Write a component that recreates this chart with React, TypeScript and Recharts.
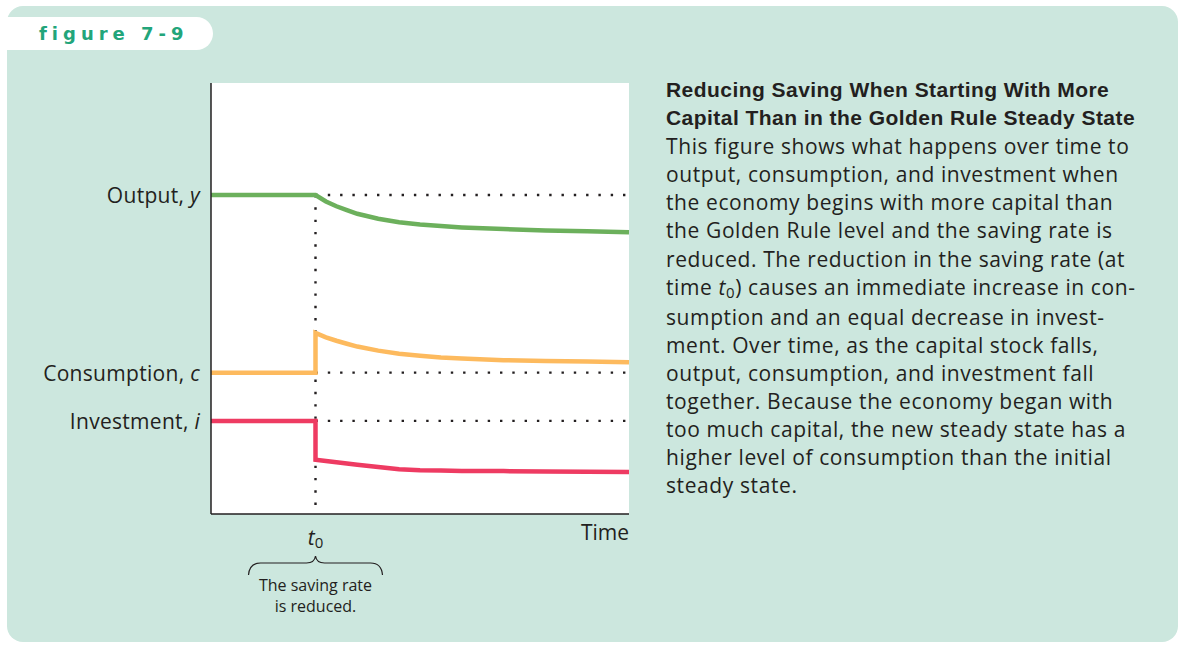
import { LineChart, Line, XAxis, YAxis, ReferenceLine, CartesianGrid } from 'recharts';

// time runs 0..100, the saving rate is cut at t0 = 25 (two rows at 25 make the jump)
const time = [0, 25, 25, 27.5, 30, 32.5, 35, 40, 45, 50, 55, 60, 70, 80, 90, 100];
const output = [74.0, 74.0, 74.0, 72.5, 71.4, 70.5, 69.65, 68.5, 67.7, 67.15, 66.8, 66.5, 66.1, 65.8, 65.6, 65.4];
const consumption = [32.8, 32.8, 42.0, 41.0, 40.2, 39.5, 38.85, 37.9, 37.2, 36.7, 36.3, 36.1, 35.7, 35.5, 35.4, 35.2];
const investment = [21.6, 21.6, 12.6, 12.3, 12.0, 11.7, 11.45, 10.9, 10.4, 10.15, 10.07, 10.0, 9.95, 9.88, 9.8, 9.74];

const t0 = 25;
const tEnd = 100;

const yTickValues = [74.0, 32.8, 21.6];
const yTickNames = ['Output, ', 'Consumption, ', 'Investment, '];
const yTickSymbols = ['y', 'c', 'i'];

const xTickValues = [25, 100];
const timeLabel = 'Time';
const captionLines = ['The saving rate', 'is reduced.'];

const title = ['Reducing Saving When Starting With More', 'Capital Than in the Golden Rule Steady State'];
const bodyLines = [
  'This figure shows what happens over time to',
  'output, consumption, and investment when',
  'the economy begins with more capital than',
  'the Golden Rule level and the saving rate is',
  'reduced. The reduction in the saving rate (at',
  'time {t0}) causes an immediate increase in con-',
  'sumption and an equal decrease in invest-',
  'ment. Over time, as the capital stock falls,',
  'output, consumption, and investment fall',
  'together. Because the economy began with',
  'too much capital, the new steady state has a',
  'higher level of consumption than the initial',
  'steady state.',
];

const data = time.map((t, i) => ({
  t,
  output: output[i],
  consumption: consumption[i],
  investment: investment[i],
}));

const FONT = '"Open Sans", sans-serif';
const INK = '#231f20';

function YTick(props: any) {
  const { x, y, payload } = props;
  const idx = yTickValues.indexOf(payload.value);
  return (
    <text x={x} y={y} dy={8} textAnchor="end" fontFamily={FONT} fontSize={21} letterSpacing={0.3} fill={INK}>
      {yTickNames[idx]}
      <tspan fontStyle="italic">{yTickSymbols[idx]}</tspan>
    </text>
  );
}

function XTick(props: any) {
  const { x, y, payload } = props;
  if (payload.value === tEnd) {
    return (
      <text x={x} y={y + 26} textAnchor="end" fontFamily={FONT} fontSize={21} fill={INK}>
        {timeLabel}
      </text>
    );
  }
  return (
    <g>
      <text x={x} y={y + 31} textAnchor="middle" fontFamily={FONT} fontSize={21} fill={INK}>
        <tspan fontStyle="italic">t</tspan>
        <tspan fontSize={15} dy={3}>0</tspan>
      </text>
      <path
        d={`M${x - 67},${y + 61} Q${x - 66},${y + 49} ${x - 55},${y + 49} L${x - 9},${y + 49} Q${x - 1},${y + 49} ${x},${y + 42} Q${x + 1},${y + 49} ${x + 9},${y + 49} L${x + 55},${y + 49} Q${x + 66},${y + 49} ${x + 67},${y + 61}`}
        fill="none"
        stroke={INK}
        strokeWidth={1.2}
      />
      {captionLines.map((line, i) => (
        <text key={line} x={x} y={y + 77 + i * 21} textAnchor="middle" fontFamily={FONT} fontSize={16} fill={INK}>
          {line}
        </text>
      ))}
    </g>
  );
}

function BodyLine({ text }: { text: string }) {
  const parts = text.split('{t0}');
  if (parts.length === 1) return <div>{text}</div>;
  return (
    <div>
      {parts[0]}
      <i>t</i>
      <span style={{ fontSize: 15, position: 'relative', top: 3 }}>0</span>
      {parts[1]}
    </div>
  );
}

const dots = { stroke: INK, strokeWidth: 2.4, strokeDasharray: '2.4 9.9' };

export default function App() {
  return (
    <div style={{ position: 'absolute', left: 0, top: 0, width: 1180, height: 646, background: '#fff', overflow: 'hidden' }}>
      <div style={{ position: 'absolute', left: 7, top: 6, width: 1171, height: 636, background: '#cce7de', borderRadius: 16 }} />
      <div
        style={{
          position: 'absolute',
          left: 7,
          top: 17,
          width: 206,
          height: 33,
          background: '#fff',
          borderRadius: '0 17px 17px 0',
          color: '#22a57a',
          fontFamily: '"DejaVu Sans", sans-serif',
          fontWeight: 700,
          fontSize: 18,
          letterSpacing: 5.0,
          lineHeight: '33px',
          paddingLeft: 32,
          boxSizing: 'border-box',
        }}
      >
        figure 7-9
      </div>

      <div style={{ position: 'absolute', left: 0, top: 0 }}>
        <LineChart width={660} height={646} data={data} margin={{ top: 83, right: 31, bottom: 22, left: 0 }}>
          <CartesianGrid fill="#fff" horizontal={false} vertical={false} />
          <XAxis
            dataKey="t"
            type="number"
            domain={[0, 100]}
            ticks={xTickValues}
            tick={<XTick />}
            tickLine={false}
            tickSize={0}
            tickMargin={0}
            height={110}
            axisLine={{ stroke: INK, strokeWidth: 1.5 }}
            interval={0}
          />
          <YAxis
            type="number"
            domain={[0, 100]}
            ticks={yTickValues}
            tick={<YTick />}
            tickLine={false}
            tickSize={0}
            tickMargin={11}
            width={211}
            axisLine={{ stroke: INK, strokeWidth: 1.5 }}
            interval={0}
          />
          <ReferenceLine segment={[{ x: t0, y: output[0] }, { x: tEnd, y: output[0] }]} {...dots} />
          <ReferenceLine segment={[{ x: t0, y: consumption[0] }, { x: tEnd, y: consumption[0] }]} {...dots} />
          <ReferenceLine segment={[{ x: t0, y: investment[0] }, { x: tEnd, y: investment[0] }]} {...dots} />
          <ReferenceLine segment={[{ x: t0, y: output[0] }, { x: t0, y: 0 }]} {...dots} />
          <Line dataKey="output" type="linear" stroke="#6cb05c" strokeWidth={4.5} strokeLinejoin="miter" dot={false} activeDot={false} isAnimationActive={false} />
          <Line dataKey="consumption" type="linear" stroke="#fdba5e" strokeWidth={4.5} strokeLinejoin="miter" dot={false} activeDot={false} isAnimationActive={false} />
          <Line dataKey="investment" type="linear" stroke="#ee3b62" strokeWidth={4.5} strokeLinejoin="miter" dot={false} activeDot={false} isAnimationActive={false} />
        </LineChart>
      </div>

      <div style={{ position: 'absolute', left: 666, top: 76, color: INK }}>
        <div style={{ fontFamily: '"Liberation Sans", Arial, sans-serif', fontWeight: 700, fontSize: 21, lineHeight: '28.1px', letterSpacing: 0.45, whiteSpace: 'nowrap' }}>
          {title.map((l) => (
            <div key={l}>{l}</div>
          ))}
        </div>
        <div style={{ fontFamily: FONT, fontSize: 21, lineHeight: '28.1px', letterSpacing: 0.6, whiteSpace: 'nowrap' }}>
          {bodyLines.map((l) => (
            <BodyLine key={l} text={l} />
          ))}
        </div>
      </div>
    </div>
  );
}
